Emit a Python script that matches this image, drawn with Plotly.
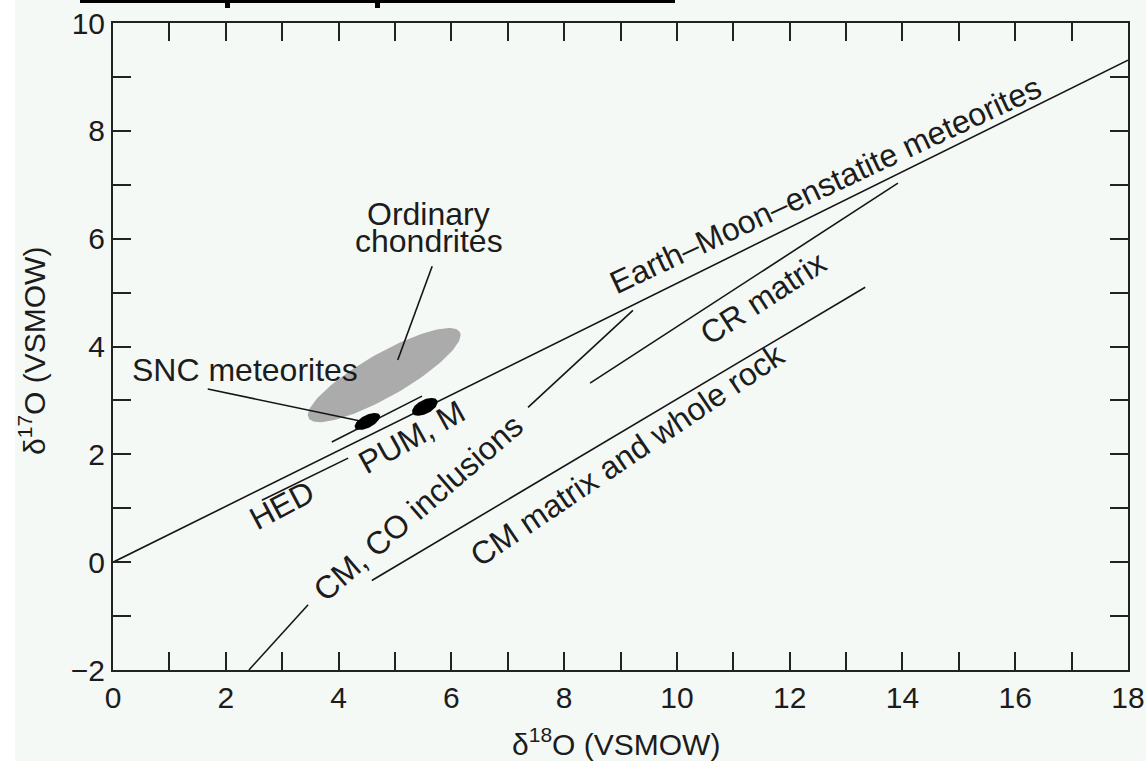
import numpy as np
import plotly.graph_objects as go

# ---------------- figure geometry ----------------
W, H = 1146, 761
ML, MR, MT, MB = 113, 18, 23, 91
X_RANGE = [0, 18]
Y_RANGE = [-2, 10]

# ---------------- data ----------------
x_tick_vals = [0, 2, 4, 6, 8, 10, 12, 14, 16, 18]
x_tick_labels = ["0", "2", "4", "6", "8", "10", "12", "14", "16", "18"]
y_tick_vals = [-2, 0, 2, 4, 6, 8, 10]
y_tick_labels = ["\u22122", "0", "2", "4", "6", "8", "10"]
minor_step = 1

# Earth-Moon-enstatite (terrestrial fractionation) line
tfl_x = [0.0, 18.0]
tfl_y = [0.0, 9.31]

# SNC line (slightly above TFL)
snc_line_x = [3.88, 5.48]
snc_line_y = [2.23, 3.08]

# HED line
hed_x = [2.64, 4.17]
hed_y = [1.15, 1.93]

# CM, CO inclusions line (gap where label sits)
ccam_x = [2.41, 3.46, None, 7.36, 9.22]
ccam_y = [-2.0, -0.79, None, 2.87, 4.67]

# CR matrix line
cr_x = [8.46, 13.92]
cr_y = [3.32, 7.03]

# CM matrix and whole rock line
cm_x = [4.59, 13.34]
cm_y = [-0.34, 5.10]

# leader lines
oc_leader_x = [5.66, 5.05]
oc_leader_y = [5.49, 3.75]
snc_leader_x = [1.68, 4.47]
snc_leader_y = [3.21, 2.60]

# ellipses: center, end of major half-axis, minor/major ratio
oc_center = (4.81, 3.47)
oc_major_end = (6.15, 4.27)
oc_ratio = 0.25

snc_center = (4.51, 2.61)
snc_major_end = (4.73, 2.73)
snc_ratio = 0.45

pum_center = (5.53, 2.88)
pum_major_end = (5.75, 3.00)
pum_ratio = 0.5

# labels: text, x, y, angle
labels = [
    ("Ordinary", 5.59, 6.45, 0),
    ("chondrites", 5.60, 5.95, 0),
    ("SNC meteorites", 2.34, 3.56, 0),
    ("Earth\u2013Moon\u2013enstatite meteorites", 12.63, 6.99, -25),
    ("CR matrix", 11.53, 4.90, -33),
    ("CM matrix and whole rock", 9.12, 1.99, -34),
    ("CM, CO inclusions", 5.41, 1.00, -41),
    ("PUM, M", 5.30, 2.32, -29),
    ("HED", 3.00, 1.06, -28),
]

# ---------------- helpers ----------------
PW = W - ML - MR
PH = H - MT - MB
SX = PW / (X_RANGE[1] - X_RANGE[0])   # px per x unit
SY = PH / (Y_RANGE[1] - Y_RANGE[0])   # px per y unit


def ellipse(center, major_end, ratio, n=120):
    cx, cy = center
    ux = (major_end[0] - cx) * SX
    uy = (major_end[1] - cy) * SY
    a = np.hypot(ux, uy)
    phi = np.arctan2(uy, ux)
    b = a * ratio
    t = np.linspace(0, 2 * np.pi, n)
    px = a * np.cos(t) * np.cos(phi) - b * np.sin(t) * np.sin(phi)
    py = a * np.cos(t) * np.sin(phi) + b * np.sin(t) * np.cos(phi)
    return cx + px / SX, cy + py / SY


def paper_x(px):
    return (px - ML) / PW


def paper_y(py):
    return (H - MB - py) / PH


LINE_COLOR = "#151515"
TEXT_COLOR = "#1c1c1c"
BG = "#f4f9f6"
FONT = "Liberation Sans, Arial, Helvetica, sans-serif"

fig = go.Figure()

# Ordinary chondrites field
ex, ey = ellipse(oc_center, oc_major_end, oc_ratio)
fig.add_trace(go.Scatter(x=ex, y=ey, mode="lines", fill="toself",
                         fillcolor="#ababab", line=dict(width=0, color="#ababab"),
                         hoverinfo="skip", showlegend=False))

# lines
line_style = dict(color=LINE_COLOR, width=1.6)
for xs, ys in [(tfl_x, tfl_y), (snc_line_x, snc_line_y), (hed_x, hed_y),
               (ccam_x, ccam_y), (cr_x, cr_y), (cm_x, cm_y),
               (oc_leader_x, oc_leader_y), (snc_leader_x, snc_leader_y)]:
    fig.add_trace(go.Scatter(x=xs, y=ys, mode="lines", line=line_style,
                             hoverinfo="skip", showlegend=False))

# black blobs (SNC, PUM/M)
for c, e, r in [(snc_center, snc_major_end, snc_ratio), (pum_center, pum_major_end, pum_ratio)]:
    bx, by = ellipse(c, e, r)
    fig.add_trace(go.Scatter(x=bx, y=by, mode="lines", fill="toself",
                             fillcolor="#000000", line=dict(width=0, color="#000000"),
                             hoverinfo="skip", showlegend=False))

# labels
for text, lx, ly, ang in labels:
    fig.add_annotation(x=lx, y=ly, xref="x", yref="y", text=text, textangle=ang,
                       showarrow=False, xanchor="center", yanchor="middle",
                       font=dict(family=FONT, size=32, color=TEXT_COLOR))

# axis titles
fig.add_annotation(x=paper_x(616), y=paper_y(742), xref="paper", yref="paper",
                   text="\u03b4<sup>18</sup>O (VSMOW)", showarrow=False,
                   xanchor="center", yanchor="middle",
                   font=dict(family=FONT, size=30, color=TEXT_COLOR))
fig.add_annotation(x=paper_x(32), y=paper_y(351), xref="paper", yref="paper",
                   text="\u03b4<sup>17</sup>O (VSMOW)", showarrow=False, textangle=-90,
                   xanchor="center", yanchor="middle",
                   font=dict(family=FONT, size=30, color=TEXT_COLOR))

# decorations: white strip at left edge, cut-off black title bar at top
fig.add_shape(type="rect", xref="paper", yref="paper",
              x0=paper_x(0), x1=paper_x(15), y0=paper_y(H), y1=paper_y(0),
              fillcolor="#ffffff", line=dict(width=0), layer="below")
fig.add_shape(type="rect", xref="paper", yref="paper",
              x0=paper_x(80), x1=paper_x(675), y0=paper_y(3), y1=paper_y(0),
              fillcolor="#000000", line=dict(width=0))
for dx in (225, 375):
    fig.add_shape(type="rect", xref="paper", yref="paper",
                  x0=paper_x(dx), x1=paper_x(dx + 5), y0=paper_y(8), y1=paper_y(0),
                  fillcolor="#000000", line=dict(width=0))

axis_common = dict(showgrid=False, zeroline=False, showline=True, linecolor="#222",
                   linewidth=2, mirror="ticks", ticks="inside", ticklen=18,
                   tickwidth=1.6, tickcolor="#222", automargin=False,
                   minor=dict(ticks="inside", ticklen=18, tickwidth=1.6, tickcolor="#222",
                              dtick=minor_step, showgrid=False),
                   tickfont=dict(family=FONT, size=30, color=TEXT_COLOR))

fig.update_layout(
    width=W, height=H, autosize=False,
    margin=dict(l=ML, r=MR, t=MT, b=MB, pad=0, autoexpand=False),
    paper_bgcolor=BG, plot_bgcolor=BG,
    showlegend=False,
    xaxis=dict(range=X_RANGE, tickmode="array", tickvals=x_tick_vals, ticktext=x_tick_labels,
               **axis_common),
    yaxis=dict(range=Y_RANGE, tickmode="array", tickvals=y_tick_vals, ticktext=y_tick_labels,
               **axis_common),
)

fig.write_html("out.html")
